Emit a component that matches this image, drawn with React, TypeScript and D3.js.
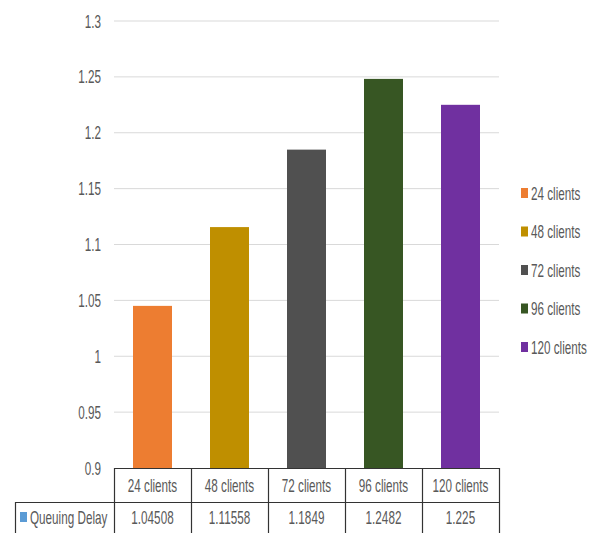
import React from "react";
import * as d3 from "d3";

const categories = ["24 clients", "48 clients", "72 clients", "96 clients", "120 clients"];
const values = [1.04508, 1.11558, 1.1849, 1.2482, 1.225];
const valueLabels = ["1.04508", "1.11558", "1.1849", "1.2482", "1.225"];
const colors = ["#ED7D31", "#BF8F00", "#505050", "#375623", "#7030A0"];
const yTicks = [0.9, 0.95, 1, 1.05, 1.1, 1.15, 1.2, 1.25, 1.3];
const tickLabels = ["0.9", "0.95", "1", "1.05", "1.1", "1.15", "1.2", "1.25", "1.3"];
const seriesName = "Queuing Delay";
const seriesColor = "#5B9BD5";

const W = 602;
const H = 533;
const left = 114;
const right = 499;
const top = 21;
const bottom = 468;
const row1 = 502;
const row2 = 536;
const tableLeft = 15;

const FONT = "Liberation Sans, Arial, sans-serif";
const TXT = "#595959";
const SX = 0.65;

function T({ x, y, anchor = "middle", size = 18, fill = TXT, children }: any) {
  return (
    <text
      transform={`translate(${x},${y}) scale(${SX},1)`}
      textAnchor={anchor}
      dominantBaseline="central"
      fontFamily={FONT}
      fontSize={size}
      fill={fill}
    >
      {children}
    </text>
  );
}

export default function App() {
  const x = d3.scaleBand<string>().domain(categories).range([left, right]).paddingInner(0).paddingOuter(0);
  const y = d3.scaleLinear().domain([0.9, 1.3]).range([bottom, top]);
  const bw = 39;
  const legendY = d3.scalePoint<string>().domain(categories).range([193, 347]);

  return (
    <svg width={W} height={H} style={{ position: "absolute", left: 0, top: 0, background: "#fff" }}>
      {yTicks.map((t, i) => (
        <g key={t}>
          {i > 0 && <line x1={left} x2={right} y1={y(t)} y2={y(t)} stroke="#d9d9d9" strokeWidth={1} />}
          <T x={101} y={y(t)} anchor="end">{tickLabels[i]}</T>
        </g>
      ))}
      {categories.map((c, i) => (
        <rect
          key={c}
          x={(x(c) as number) + x.bandwidth() / 2 - bw / 2}
          y={y(values[i])}
          width={bw}
          height={bottom - y(values[i])}
          fill={colors[i]}
        />
      ))}
      <g stroke="#333333" strokeWidth={1.2} fill="none">
        <line x1={left} x2={right} y1={bottom + 0.5} y2={bottom + 0.5} />
        <line x1={tableLeft} x2={right} y1={row1 + 0.5} y2={row1 + 0.5} />
        <line x1={tableLeft + 0.5} x2={tableLeft + 0.5} y1={row1} y2={row2} />
        {categories.map((c) => (
          <line key={c} x1={(x(c) as number) + 0.5} x2={(x(c) as number) + 0.5} y1={bottom} y2={row2} />
        ))}
        <line x1={right + 0.5} x2={right + 0.5} y1={bottom} y2={row2} />
      </g>
      {categories.map((c, i) => (
        <g key={c}>
          <T x={(x(c) as number) + x.bandwidth() / 2} y={485}>{c}</T>
          <T x={(x(c) as number) + x.bandwidth() / 2} y={517}>{valueLabels[i]}</T>
        </g>
      ))}
      <rect x={20} y={512} width={7} height={10} fill={seriesColor} />
      <T x={30} y={517} anchor="start">{seriesName}</T>
      {categories.map((c, i) => (
        <g key={c}>
          <rect x={521} y={legendY(c)! - 5} width={7} height={10} fill={colors[i]} />
          <T x={531} y={legendY(c)!} anchor="start">{c}</T>
        </g>
      ))}
    </svg>
  );
}
